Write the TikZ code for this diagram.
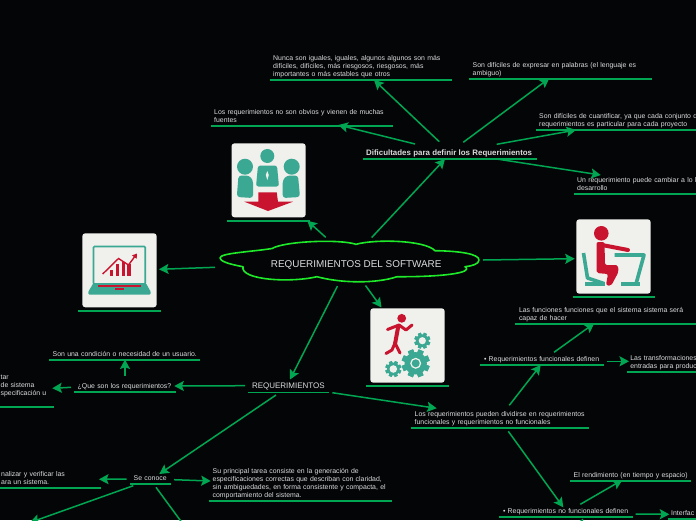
\documentclass[tikz,border=0pt]{standalone}
\usepackage{fontspec}
\setmainfont{Liberation Sans}
\usetikzlibrary{arrows.meta}
\definecolor{bgc}{HTML}{030507}
\definecolor{linec}{HTML}{00A651}
\definecolor{cloudc}{HTML}{1FEA2A}
\definecolor{txtc}{HTML}{DCDCDC}
\definecolor{tealc}{HTML}{3AA892}
\definecolor{redc}{HTML}{C9142F}
\definecolor{cardc}{HTML}{F0F0EC}
\tikzset{
  conn/.style={draw=linec,line width=1.5pt,-{Stealth[length=9.5pt,width=10pt,inset=1.8pt]}},
  uline/.style={draw=linec,line width=1.7pt},
  topicnode/.style={anchor=south west,inner xsep=3.5pt,inner ysep=0.9pt,align=left,text=txtc,
    font=\fontsize{6.9}{8}\selectfont},
  card/.style={fill=cardc,draw=none,rounded corners=3pt},
  tealfill/.style={fill=tealc,draw=none},
  redfill/.style={fill=redc,draw=none},
  tealline/.style={draw=tealc,line width=3.6pt,line join=round,line cap=butt},
  redline/.style={draw=redc,line width=3pt,line join=round,line cap=round},
}
% name, x0, x1, y of underline, text
\newcommand\topic[5]{%
  \pgfmathsetmacro\tw{#3-(#2)-7}%
  \node[topicnode,text width=\tw pt] (#1) at (#2,#4) {\strut #5\strut};
  \draw[uline] (#1.south west) -- (#1.south east);
  \expandafter\xdef\csname tx@#1\endcsname{#2}%
  \expandafter\xdef\csname ty@#1\endcsname{#4}%
}
\newcommand\getoff[3]{%
  \pgfmathsetmacro\ox{#2-(\csname tx@#1\endcsname)}%
  \pgfmathsetmacro\oy{#3-(\csname ty@#1\endcsname)}%
}
% from node at abs (x,y) to node at abs (x,y)
\newcommand\link[6]{%
  \getoff{#1}{#2}{#3}\let\ax\ox\let\ay\oy
  \getoff{#4}{#5}{#6}\let\bx\ox\let\by\oy
  \draw[conn] ([shift={(\ax,\ay)}]#1.south west) -- ([shift={(\bx,\by)}]#4.south west);
}
\newcommand\linkfree[4]{%
  \getoff{#1}{#2}{#3}%
  \draw[conn] ([shift={(\ox,\oy)}]#1.south west) -- (#4);
}
\newcommand\gear[4]{% x y R hole
  \foreach \a in {0,45,...,315}{
    \fill[tealc,rotate around={\a+22:(#1,#2)}] (#1-#3*0.2,#2-#3) rectangle (#1+#3*0.2,#2+#3);
  }
  \fill[tealc] (#1,#2) circle ({#3*0.8});
  \fill[cardc] (#1,#2) circle (#4);
}
\begin{document}
\begin{tikzpicture}[x=1pt,y=-1pt]
\useasboundingbox (0,0) rectangle (696,520);
\clip (0,0) rectangle (696,520);
\fill[bgc] (0,0) rectangle (696,520);

% central cloud
\draw[cloudc,line width=1.6pt,line join=round,fill=bgc]
  (243,266.7) .. controls (228,264) and (220,261) .. (220,258)
  .. controls (220,253) and (250,252) .. (272,248.5)
  .. controls (285,241) and (340,239) .. (356,244.3)
  .. controls (375,239) and (425,240) .. (435,250.7)
  .. controls (460,251) and (479,254) .. (479,260)
  .. controls (479,264) and (472,266) .. (465,266.7)
  .. controls (475,273) and (440,277) .. (397,276.7)
  .. controls (375,284) and (340,283) .. (317,276.7)
  .. controls (290,283) and (240,280) .. (243,266.7) -- cycle;
\node[anchor=south west,minimum width=272pt,minimum height=44pt,inner sep=0pt,text=txtc,
  font=\fontsize{9.9}{11}\selectfont] (root) at (220,287) {REQUERIMIENTOS DEL SOFTWARE};
\expandafter\xdef\csname tx@root\endcsname{220}
\expandafter\xdef\csname ty@root\endcsname{287}

% topics
\topic{dif}{362.5}{537}{159}{\fontsize{7.9}{8}\selectfont\bfseries Dificultades para definir los Requerimientos}
\topic{nunca}{269.5}{452}{80}{Nunca son iguales, iguales, algunos algunos son más\\difíciles, difíciles, más riesgosos, riesgosos, más\\importantes o más estables que otros}
\topic{obvios}{210.5}{393}{126}{Los requerimientos no son obvios y vienen de muchas\\fuentes}
\topic{expresar}{469}{652}{79}{Son difíciles de expresar en palabras (el lenguaje es\\ambiguo)}
\topic{cuant}{535.5}{800}{130.3}{Son difíciles de cuantificar, ya que cada conjunto d\\requerimientos es particular para cada proyecto}
\topic{cambiar}{573.5}{800}{194}{Un requerimiento puede cambiar a lo l\\desarrollo}
\topic{team}{227.3}{309.7}{220.7}{}
\topic{laptop}{78.3}{160.7}{310.7}{}
\topic{desk}{572.7}{655}{297.3}{}
\topic{runner}{366.3}{449}{386.3}{}
\topic{req}{248.3}{329}{392.4}{\fontsize{8}{8}\selectfont REQUERIMIENTOS}
\topic{que}{74}{175.7}{391.7}{¿Que son los requerimientos?}
\topic{cond}{49}{200}{360}{\mbox{Son una condición o necesidad de un usuario.}}
\topic{frag}{-3}{54}{407.3}{tar\\de sistema\\specificación u\\~}
\topic{conoce}{130}{170.7}{484}{Se conoce}
\topic{analiz}{-2.5}{100.7}{488.3}{nalizar y verificar las\\ara un sistema.}
\topic{princ}{209}{391.7}{501.3}{Su principal tarea consiste en la generación de\\especificaciones correctas que describan con claridad,\\sin ambiguedades, en forma consistente y compacta, el\\comportamiento del sistema.}
\topic{div}{411}{589}{428}{Los requerimientos pueden dividirse en requerimientos\\funcionales y requerimientos no funcionales}
\topic{func}{480.3}{604}{365.3}{• Requerimientos funcionales definen}
\topic{funciones}{515.3}{800}{323.7}{Las funciones funciones que el sistema sistema será\\capaz de hacer}
\topic{transf}{626.7}{800}{371.7}{Las transformaciones\\entradas para produc}
\topic{nofunc}{499.3}{632.3}{517.3}{• Requerimientos no funcionales definen}
\topic{rend}{570}{691}{481.3}{El rendimiento (en tiempo y espacio)}
\topic{interf}{667.5}{800}{519.3}{Interfac}

% off-page ends
\coordinate (offa) at (30,522.5);
\coordinate (offb) at (205,554);
\coordinate (offc) at (583,518.5);

% connectors
\link{root}{371.7}{237.5}{dif}{445}{159}
\link{root}{325.7}{237.3}{team}{307.3}{220.7}
\link{root}{215}{267.3}{laptop}{159}{269.3}
\link{root}{483}{260}{desk}{574.7}{258.7}
\link{root}{365.5}{285.5}{runner}{381.5}{307.5}
\link{root}{337.5}{286}{req}{290}{379.5}
\link{dif}{439.3}{141.7}{nunca}{374}{80}
\link{dif}{415}{144}{obvios}{338.3}{125}
\link{dif}{463.3}{142.3}{expresar}{549.3}{78.3}
\link{dif}{496.7}{144.3}{cuant}{576}{130}
\link{dif}{496.7}{159}{cambiar}{600.7}{175}
\link{req}{245}{385.7}{que}{174.3}{386}
\link{que}{125}{376}{cond}{125}{359.5}
\link{que}{71}{387.3}{frag}{52.3}{388.3}
\link{req}{276}{395}{conoce}{159.3}{474}
\link{conoce}{126.7}{479}{analiz}{99}{479.3}
\link{conoce}{174}{479.7}{princ}{210.7}{481}
\linkfree{conoce}{133.3}{485.7}{offa}
\linkfree{conoce}{156}{487.3}{offb}
\link{req}{332.3}{392.7}{div}{436.7}{408.3}
\link{div}{509.3}{405.3}{func}{540.7}{365}
\link{div}{508.3}{431.3}{nofunc}{563.3}{507.3}
\link{func}{554}{352.3}{funciones}{594.3}{323.3}
\link{func}{607}{361.3}{transf}{629}{361.3}
\link{nofunc}{580.3}{504.3}{rend}{622.3}{480}
\link{nofunc}{635.7}{514}{interf}{669.3}{514.3}
\linkfree{nofunc}{578}{530}{offc}

% team icon
\fill[card] (231.5,143.3) rectangle (305.7,217.3);
\fill[tealc] (267.3,156) circle (7);
\fill[tealfill,rounded corners=2.5pt] (258,165.5) -- (277,165.5) -- (279,186.5) -- (256,186.5) -- cycle;
\fill[cardc] (267.3,171) -- (268.8,175) -- (267.3,180) -- (265.8,175) -- cycle;
\fill[tealc] (245,166.7) circle (8);
\fill[tealfill,rounded corners=3pt] (238.5,175.5) -- (249,175.5) -- (253,180) -- (253,198) -- (236.8,197) -- cycle;
\fill[tealc] (291.7,166.7) circle (8);
\fill[tealfill,rounded corners=3pt] (298,175.5) -- (287,175.5) -- (282.7,180) -- (282.7,198) -- (300,197) -- cycle;
\fill[redc] (258.3,192.3) -- (276.7,192.3) -- (278,201.7) -- (293,201.7) -- (268,211) -- (244.3,201.7) -- (258.3,201.7) -- cycle;

% laptop icon
\fill[card] (82.3,233.3) rectangle (156.7,307.3);
\draw[tealc,line width=1.6pt,fill=cardc,rounded corners=1pt] (93.5,246.5) rectangle (145.2,284);
\fill[tealfill,rounded corners=1pt] (93.3,283.3) -- (146,283.3) -- (150.7,291.7) -- (150.7,294.5) -- (88.3,294.5) -- (88.3,291.7) -- cycle;
\fill[redc] (98.3,285) rectangle (141,287);
\fill[redc] (115,288) rectangle (124,289.7);
\fill[redc] (109.5,270) rectangle (112.5,276);
\fill[redc] (115.5,263.5) rectangle (119,276);
\fill[redc] (121.5,261.5) rectangle (125,276);
\fill[redc] (127,263.5) rectangle (130.5,276);
\draw[redc,line width=1.4pt,-{Stealth[length=4.5pt,width=5.5pt,inset=0pt]}] (102.7,274) -- (118.5,258.5) -- (128.5,265) -- (137,253.5);

% desk icon
\fill[card] (576.3,219.3) rectangle (650.7,293.7);
\fill[redc] (601.3,233.3) circle (7.3);
\draw[tealline] (583.5,253) -- (587.5,278) -- (604,283.5);
\draw[tealline] (585,284) -- (605,284);
\draw[tealline] (614.5,255) -- (644,255) -- (636,284);
\draw[tealline] (621,284) -- (640,284);
\draw[redc,line width=4pt,line cap=round,line join=round] (602,245) -- (628,250);
\fill[redfill,rounded corners=2pt] (596.5,242) -- (604.5,242) -- (605,265) -- (618,265) -- (618.5,272) -- (611,286) -- (606,285) -- (608,274) -- (596.5,273) -- cycle;

% runner icon
\fill[card] (370.3,308.3) rectangle (444.7,382.7);
\gear{422.3}{340.7}{8}{3.6}
\gear{393.3}{369}{8}{3.8}
\gear{415.7}{363.3}{14}{5.5}
\fill[tealc] (415.7,363.3) circle (4);
\fill[redc] (401.7,318.3) circle (4.4);
\draw[redline] (387.5,329.5) -- (399,325) -- (406,330) -- (412,325);
\draw[redline,line width=4pt,line cap=butt] (398.5,325) -- (395,344);
\draw[redline] (395,343) -- (400,353);
\draw[redline] (395,343) -- (392,350) -- (386,353.5);
\end{tikzpicture}
\end{document}
